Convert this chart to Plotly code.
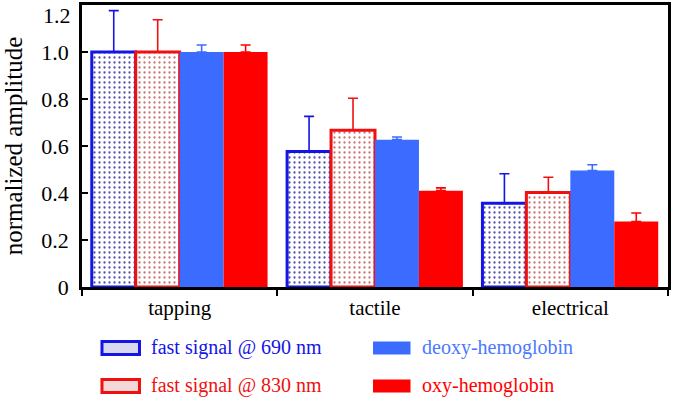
import plotly.graph_objects as go

categories = ["tapping", "tactile", "electrical"]
series_names = ["fast signal @ 690 nm", "fast signal @ 830 nm", "deoxy-hemoglobin", "oxy-hemoglobin"]
fast690 = [1.0, 0.577, 0.356]
err690 = [0.176, 0.149, 0.126]
fast830 = [1.0, 0.667, 0.402]
err830 = [0.137, 0.136, 0.065]
deoxy = [1.0, 0.627, 0.496]
err_deoxy = [0.03, 0.011, 0.024]
oxy = [1.0, 0.41, 0.279]
err_oxy = [0.03, 0.012, 0.036]
ytick_vals = [0, 0.2, 0.4, 0.6, 0.8, 1.0]
ytick_text = ["0", "0.2", "0.4", "0.6", "0.8", "1.0"]
top_tick_val = 1.2
top_tick_text = "1.2"

FONT = "Times New Roman, Liberation Serif, serif"
BLUE_EDGE = "#1414e6"
RED_EDGE = "#f01010"
DEOXY = "#3b6cff"
OXY = "#ff0000"

fig = go.Figure()

def add_bar(name, vals, errs, edge, patterned, fg=None):
    if patterned:
        marker = dict(color="white", line=dict(color=edge, width=3),
                      pattern=dict(shape=".", fgcolor=fg, bgcolor="white",
                                   size=5, solidity=0.16, fillmode="replace"))
    else:
        marker = dict(color=edge, line=dict(color=edge, width=0))
    fig.add_trace(go.Bar(
        x=categories, y=vals, name=name, marker=marker,
        error_y=dict(type="data", array=errs, arrayminus=[0]*len(errs),
                     symmetric=False, color=edge, thickness=1.6, width=5),
        showlegend=False,
    ))

add_bar(series_names[0], fast690, err690, BLUE_EDGE, True, "#5050b0")
add_bar(series_names[1], fast830, err830, RED_EDGE, True, "#cc7070")
add_bar(series_names[2], deoxy, err_deoxy, DEOXY, False)
add_bar(series_names[3], oxy, err_oxy, OXY, False)

# Legend built from shapes + annotations
legend_items = [
    (series_names[0], BLUE_EDGE, "#d8d8ee", BLUE_EDGE, 0.0341, -0.2163),
    (series_names[2], DEOXY, DEOXY, "#4a78ff", 0.4966, -0.2163),
    (series_names[1], RED_EDGE, "#f2d8d8", RED_EDGE, 0.0341, -0.351),
    (series_names[3], OXY, OXY, OXY, 0.4966, -0.351),
]
sw_w = 0.064
sw_h = 0.046
for name, edge, fill, tcol, x0, yc in legend_items:
    fig.add_shape(type="rect", xref="paper", yref="paper",
                  x0=x0, x1=x0 + sw_w, y0=yc - sw_h / 2, y1=yc + sw_h / 2,
                  line=dict(color=edge, width=3 if fill != edge else 0),
                  fillcolor=fill)
    fig.add_annotation(xref="paper", yref="paper", x=x0 + sw_w + 0.016, y=yc,
                       xanchor="left", yanchor="middle", showarrow=False,
                       text=name, font=dict(family=FONT, size=20, color=tcol))

fig.add_annotation(xref="paper", yref="y", x=0, y=top_tick_val, xanchor="right",
                   yanchor="middle", yshift=-10, xshift=-9, showarrow=False,
                   text=top_tick_text, font=dict(family=FONT, size=22, color="black"))

fig.update_layout(
    width=675, height=403,
    margin=dict(l=82, r=7, t=5, b=116),
    paper_bgcolor="white", plot_bgcolor="white",
    barmode="group", bargap=0.1, bargroupgap=0,
    font=dict(family=FONT, size=21, color="black"),
    showlegend=False,
)
fig.update_xaxes(
    showline=True, linecolor="black", linewidth=2.5, mirror=True,
    ticks="outside", ticklen=6, tickwidth=2, tickcolor="black",
    tickson="boundaries", tickfont=dict(family=FONT, size=21, color="black"),
    showgrid=False, automargin=False,
)
fig.update_yaxes(
    range=[0, 1.2], showline=True, linecolor="black", linewidth=2.5, mirror=True,
    ticks="inside", ticklen=6, tickwidth=2, tickcolor="black",
    tickvals=ytick_vals, ticktext=ytick_text,
    tickfont=dict(family=FONT, size=22, color="black"),
    ticklabelstandoff=6,
    showgrid=False, zeroline=False, automargin=False,
    title=dict(text="normalized amplitude", font=dict(family=FONT, size=25, color="black"), standoff=12),
)

fig.write_html("out.html", post_script="document.body.style.margin='0';",
               config={"displayModeBar": False})
